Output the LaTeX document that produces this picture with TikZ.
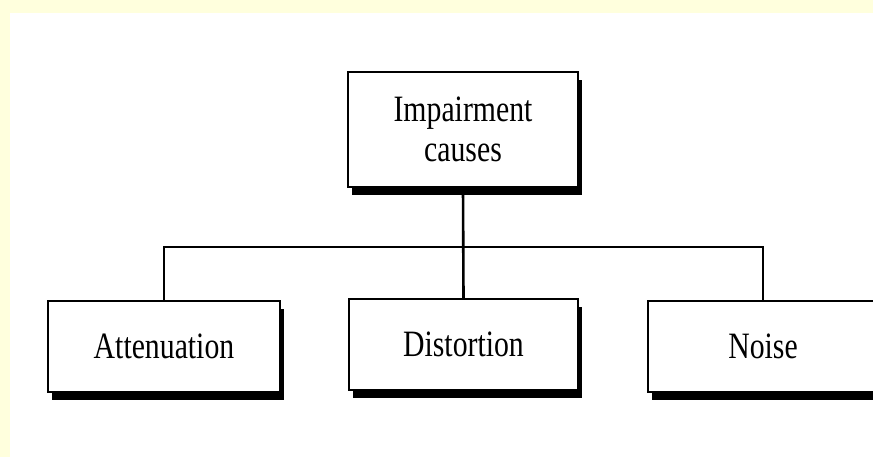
\documentclass[tikz,border=0pt]{standalone}
\usepackage{fontspec}
\setmainfont{Liberation Serif}
\usetikzlibrary{shadows}
\definecolor{bgyellow}{HTML}{FFFFDD}
\newcommand{\stx}[1]{\scalebox{0.96}[1.2]{#1}}
\begin{document}
\begin{tikzpicture}[x=1pt,y=-1pt,
  boxnode/.style={draw=black, line width=1.8pt, fill=white, inner sep=0pt,
    font=\fontsize{31}{44}\selectfont, align=center,
    drop shadow={shadow xshift=4pt, shadow yshift=-8pt, opacity=1, fill=black}},
  wire/.style={draw=black, line width=2.6pt}]
\useasboundingbox (0,0) rectangle (873,457);
\clip (0,0) rectangle (873,457);
\fill[bgyellow] (0,0) rectangle (873,457);
\fill[white] (10,13) rectangle (873,457);
\node[boxnode, minimum width=230, minimum height=115] (top) at (463,129.5) {\stx{Impairment}\\[-4pt]\stx{causes}};
\node[boxnode, minimum width=232, minimum height=91] (att) at (164,346.5) {\stx{Attenuation}};
\node[boxnode, minimum width=229, minimum height=91] (dis) at (463.5,344.5) {\stx{Distortion}};
\node[boxnode, minimum width=230, minimum height=91] (noi) at (763,346.5) {\stx{Noise}};
\coordinate (bus) at (463,247);
\draw[wire] (top.south) -- (dis.north);
\draw[wire] (att.north) |- (bus) -| (noi.north);
\end{tikzpicture}
\end{document}
